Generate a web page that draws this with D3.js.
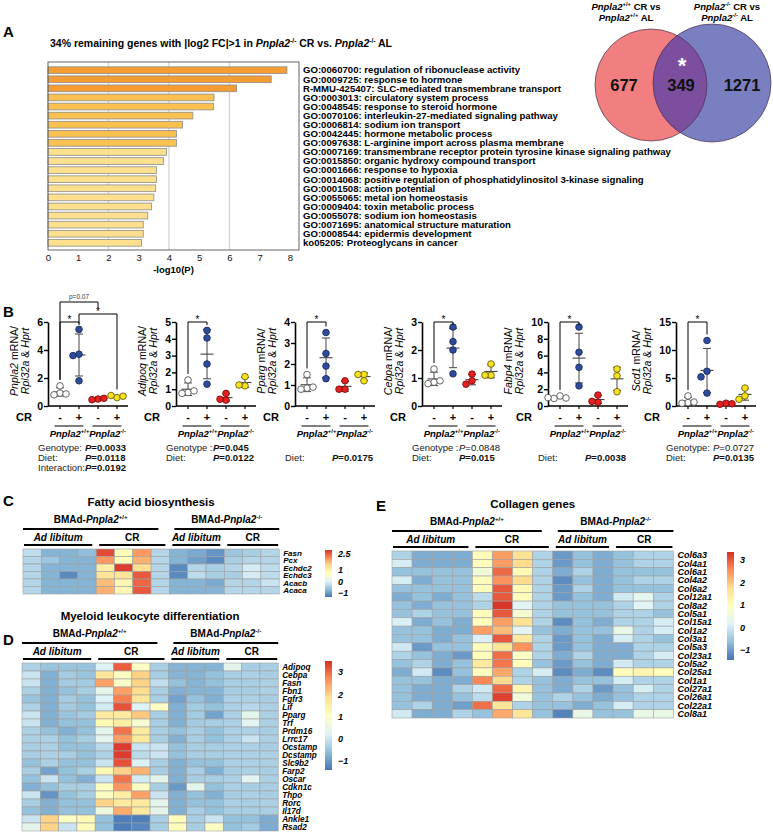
<!DOCTYPE html>
<html><head><meta charset="utf-8">
<script src="https://cdn.jsdelivr.net/npm/d3@7/dist/d3.min.js"></script>
<style>html,body{margin:0;padding:0;background:#fff}svg{display:block}</style>
</head><body>
<svg id="fig" width="773" height="835"></svg>
<script>
// ======================= DATA =======================
const goTerms = [
"GO:0060700: regulation of ribonuclease activity",
"GO:0009725: response to hormone",
"R-MMU-425407: SLC-mediated transmembrane transport",
"GO:0003013: circulatory system process",
"GO:0048545: response to steroid hormone",
"GO:0070106: interleukin-27-mediated signaling pathway",
"GO:0006814: sodium ion transport",
"GO:0042445: hormone metabolic process",
"GO:0097638: L-arginine import across plasma membrane",
"GO:0007169: transmembrane receptor protein tyrosine kinase signaling pathway",
"GO:0015850: organic hydroxy compound transport",
"GO:0001666: response to hypoxia",
"GO:0014068: positive regulation of phosphatidylinositol 3-kinase signaling",
"GO:0001508: action potential",
"GO:0055065: metal ion homeostasis",
"GO:0009404: toxin metabolic process",
"GO:0055078: sodium ion homeostasis",
"GO:0071695: anatomical structure maturation",
"GO:0008544: epidermis development",
"ko05205: Proteoglycans in cancer"];
const goLogP = [7.90,7.38,6.23,5.49,5.47,4.79,4.45,4.25,4.25,3.92,3.82,3.59,3.59,3.56,3.50,3.42,3.30,3.15,3.15,3.09];
const goTicks = [0,1,2,3,4,5,6,7,8];

const vennCounts = [677, 349, 1271];

const qpcrGenes = ["Pnpla2","Adipoq","Pparg","Cebpa","Fabp4","Scd1"];
const qpcrMax = [6,5,4,3,10,15];
const qpcrStep = [2,1,1,1,2,5];
const crSigns = ["-","+","-","+"];
const genoSup = ["+/+","-/-"];
const qpcrPnpla2 = [[1.44,0.92,0.80,0.86],[5.47,3.70,3.60,1.80],[0.50,0.45,0.55],[0.60,0.75,0.70]];
const qpcrAdipoq = [[1.55,0.80,0.75,0.90],[4.50,4.05,2.50,1.30],[0.75,0.35,0.40],[1.75,1.20,1.25]];
const qpcrPparg  = [[1.50,0.85,0.80,0.90],[3.50,2.50,1.90,1.30],[1.20,0.80,0.80],[1.50,1.50,1.20]];
const qpcrCebpa  = [[1.32,0.85,0.80,0.90],[2.82,2.30,2.00,1.15],[1.14,0.90,0.78],[1.50,1.10,1.10]];
const qpcrFabp4  = [[1.20,0.90,0.95,1.00],[9.40,6.40,4.60,2.40],[1.30,0.45,0.55],[4.40,3.60,1.70]];
const qpcrScd1   = [[1.80,0.60,0.50,0.70],[11.7,6.20,5.20,2.30],[0.50,0.30,0.40],[3.20,1.80,1.20]];
const qpcrValues = [qpcrPnpla2,qpcrAdipoq,qpcrPparg,qpcrCebpa,qpcrFabp4,qpcrScd1];
const qpcrStats = [
 [["Genotype:","=0.0033",true],["Diet:","=0.0118",true],["Interaction:","=0.0192",true]],
 [["Genotype :","=0.045",true],["Diet:","=0.0122",true]],
 [null,["Diet:","=0.0175",true]],
 [["Genotype :","=0.0848",false],["Diet:","=0.015",true]],
 [null,["Diet:","=0.0038",true]],
 [["Genotype:","=0.0727",false],["Diet:","=0.0135",true]]];
const sigPnpla2 = [{a:0,b:1,label:"*",level:0},{a:1,b:3,label:"*",level:1},{a:0,b:2,label:"p=0.07",level:2}];
const sigOther = [{a:0,b:1,label:"*",level:0}];

const sampleGroups = [4,4,3,3];
const dietNames = ["Ad libitum","CR","Ad libitum","CR"];

const fattyGenes = ["Fasn","Pcx","Echdc2","Echdc3","Acacb","Acaca"];
const fattyZ = [
[-0.3,-0.8,-0.8,-0.7, 2.6, 0.8, 2.0,-0.4,-0.8,-0.9,-1.1,-0.6,-0.5,-0.4],
[-0.4,-0.6,-0.8,-0.8, 2.0, 0.8, 1.8,-0.4,-0.8,-1.0,-1.2,-0.5,-0.4,-0.4],
[-0.4,-0.8,-0.8,-0.8, 1.1, 2.7, 1.4,-0.4,-1.2,-0.4,-0.5,-0.4,-0.1,-0.3],
[-0.4,-0.8,-1.2,-0.8, 1.3, 1.3, 2.5,-0.4,-1.2,-0.3,-0.5,-0.5,-0.1,-0.3],
[-0.4,-0.8,-0.8,-0.8, 1.7, 0.9, 2.4,-0.4,-0.8,-0.8,-0.9,-0.4,-0.4,-0.2],
[-0.4,-0.8,-0.8,-0.8, 1.8, 0.9, 2.5,-0.4,-0.8,-0.8,-0.8,-0.4,-0.4,-0.4]];

const myeloidGenes = ["Adipoq","Cebpa","Fasn","Fbn1","Fgfr3","Lif","Pparg","Trf","Prdm16","Lrrc17","Ocstamp","Dcstamp","Slc9b2","Farp2","Oscar","Cdkn1c","Thpo","Rorc","Il17d","Ankle1","Rsad2"];
const myeloidZ = [
[-0.3,-0.5,-0.5,-0.5, 0.2, 3.1, 1.0,-0.35,-0.7,-0.7,-0.7, 0.4,-0.35,-0.35],
[ 0.0,-0.75,-0.4,-0.5, 1.7, 1.0, 2.0,-0.35,-0.7,-0.7,-0.55,-0.35,-0.3,-0.35],
[ 0.0,-0.75,-0.4,-0.4, 2.5, 0.9, 2.0,-0.1,-0.55,-0.7,-0.55,-0.35,-0.35,-0.3],
[-0.3,-0.75,-0.55,-0.35, 0.4, 2.5, 1.9,-0.35,-0.75,-0.7,-0.7,-0.35,-0.35,-0.3],
[-0.5,-0.75,-0.4,-0.55, 0.2, 2.8, 1.7,-0.35,-0.9,-0.55,-0.75,-0.3,-0.3,-0.35],
[-0.3,-0.75,-0.4,-0.55, 0.1, 3.2, 0.2, 1.0,-0.75,-0.4,-0.55,-0.3,-0.2,-0.3],
[ 0.0,-0.75,-0.5,-0.4, 1.6, 1.6, 2.1,-0.35,-0.75,-0.4,-0.9,-0.3, 0.4,-0.3],
[ 0.0,-0.75,-0.55,-0.55, 1.2, 1.5, 0.8,-0.35,-0.75,-0.4,-0.35,-0.3, 0.3,-0.3],
[-0.3,-0.55,-0.75,-0.55, 0.4, 2.9, 1.6,-0.35,-0.55,-0.35,-0.55,-0.3,-0.3,-0.35],
[-0.3,-0.3,-0.55,-0.35, 0.35, 2.5, 1.6,-0.35,-0.75,-0.35,-0.55,-0.3, 0.0,-0.3],
[-0.35,-0.3,-0.55,-0.55,-0.15, 3.4, 0.0, 0.0,-0.55,-0.35,-0.35,-0.3,-0.3,-0.35],
[-0.35,-0.3,-0.35,-0.55,-0.3, 3.4,-0.15, 0.0,-0.55,-0.35,-0.35,-0.3,-0.3,-0.3],
[-0.55,-0.3,-0.55,-0.55, 0.0, 3.2, 0.2,-0.35,-0.75,-0.55,-0.55,-0.3,-0.3,-0.3],
[-0.35,-0.9,-0.55,-0.35, 1.2, 2.0, 2.3,-0.35,-0.75,-0.35,-0.75,-0.35,-0.3,-0.35],
[-0.55, 0.0,-0.55,-0.75, 0.0, 2.9, 0.1, 0.4,-0.75,-0.35,-0.35,-0.3, 0.3,-0.3],
[-0.75,-0.55,-0.35,-0.35, 1.0, 2.6, 1.0,-0.35,-1.0, 0.4,-0.55,-0.3,-0.35,-0.35],
[ 0.0,-1.05,-0.55,-0.35, 1.0, 1.5, 2.5, 0.0,-0.75,-0.55,-0.75,-0.35,-0.3,-0.35],
[-0.35,-0.75,-0.55,-0.55, 2.0, 1.6, 1.6, 0.4,-0.75,-0.55,-0.55,-0.3,-0.35,-0.3],
[-0.55,-0.75,-0.55,-0.55, 0.6, 2.4, 1.6, 0.4,-0.75,-0.35,-0.55,-0.35,-0.35,-0.35],
[ 0.0, 2.0, 1.0, 1.2,-0.55,-1.3,-1.3,-0.35, 1.1,-0.35, 0.0,-0.55,-0.55,-0.8],
[ 0.4, 2.0, 0.0, 1.1,-0.55,-1.3,-1.2,-0.35, 1.1,-0.35, 1.0,-0.55,-0.4,-0.8]];

const collagenGenes = ["Col6a3","Col4a1","Col6a1","Col4a2","Col6a2","Col12a1","Col8a2","Col5a1","Col15a1","Col1a2","Col3a1","Col5a3","Col23a1","Col5a2","Col25a1","Col1a1","Col27a1","Col26a1","Col22a1","Col8a1"];
const collagenZ = [
[-0.35,-0.85,-0.85,-0.85, 1.0, 2.4, 1.7,-0.35,-1.05,-0.6,-0.85,-0.6,-0.35,-0.35],
[ 0.05,-0.85,-0.85,-0.85, 1.0, 2.4, 1.8,-0.35,-1.05,-0.6,-0.85,-0.6,-0.35,-0.35],
[-0.6,-0.6,-0.6,-0.6, 0.6, 2.85, 1.1,-0.35,-0.85,-0.35,-0.85,-0.6,-0.6,-0.6],
[ 0.05,-0.85,-0.6,-0.6, 1.0, 2.5, 1.8,-0.35,-1.2,-0.6,-0.85,-0.6,-0.35,-0.35],
[-0.6,-0.6,-0.6,-0.6, 1.0, 3.0, 1.1,-0.35,-1.05,-0.35,-0.85,-0.6,-0.6,-0.6],
[-0.85,-0.6,-0.85,-0.6,-0.2, 3.0, 1.0,-0.35,-1.05,-0.6,-0.85, 0.0, 0.3,-0.35],
[-0.6,-0.85,-0.6,-0.6,-0.35, 3.3, 0.2,-0.35,-0.6,-0.6,-0.6,-0.35, 0.2,-0.35],
[-0.6,-0.35,-0.6,-0.6, 1.0, 3.0, 0.7,-0.35,-0.6,-0.6,-0.6,-0.35,-0.35,-0.6],
[ 0.1,-0.85,-0.6,-0.85, 1.0, 2.4, 1.7,-0.35,-1.2,-0.6,-0.85,-0.35,-0.35, 0.05],
[-0.6,-0.6,-0.85,-0.85, 2.4, 2.1, 0.2,-0.6,-0.85,-0.6,-0.6, 0.4,-0.35, 0.05],
[-0.6,-0.6,-0.85,-0.6, 0.1, 3.0, 1.5,-0.35,-1.05,-0.6,-0.85, 0.05,-0.35,-0.6],
[ 0.0,-1.05,-0.6,-0.6, 1.0, 1.6, 2.5,-0.35,-1.05,-0.6,-0.85,-0.85,-0.35,-0.35],
[-0.35,-0.6,-0.85,-1.05, 1.0, 2.8, 0.9,-0.35,-0.85,-0.35,-0.85,-0.85,-0.35, 0.05],
[-0.6,-0.35,-0.85,-0.6, 1.5, 2.75, 1.0,-0.6,-1.05,-0.6,-0.85, 0.0,-0.35,-0.35],
[-0.85, 0.0,-1.2,-0.6, 1.0, 2.3,-0.35, 0.05,-1.2,-0.85,-1.2, 1.0, 1.2, 1.0],
[-0.6,-0.6,-0.85,-0.85, 2.6, 1.8,-0.35,-0.6,-0.85,-0.6,-0.6, 0.05,-0.35,-0.35],
[-0.6,-0.85,-0.85,-0.35, 0.0, 2.85, 1.2,-0.6,-0.85,-0.35,-1.05,-0.6, 0.05,-0.35],
[-0.6,-0.85,-0.85,-0.6,-0.2, 3.2, 0.6,-0.6,-0.35,-0.6,-0.85,-0.6,-0.35,-0.35],
[-0.6,-0.35,-0.85,-1.0, 2.8, 1.6,-0.35,-0.6,-0.6,-0.85,-0.6, 0.05,-0.35,-0.35],
[ 0.0,-0.85,-0.85,-0.35,-0.6, 2.3, 1.6,-0.6,-1.3, 0.4,-0.6,-0.6, 0.4, 0.4]];

// ======================= HELPERS =======================
const FONT = '"Liberation Sans", Arial, Helvetica, sans-serif';
const svg = d3.select("#fig").attr("font-family", FONT);
const defs = svg.append("defs");
const P = (t, o = {}) => Object.assign({t}, o);
function rich(parent, x, y, fs, parts, o = {}) {
  const t = parent.append("text").attr("x", x).attr("y", y).attr("font-size", fs);
  if (o.anchor) t.attr("text-anchor", o.anchor);
  if (o.weight) t.attr("font-weight", o.weight);
  if (o.transform) t.attr("transform", o.transform);
  if (o.fill) t.attr("fill", o.fill);
  let shift = 0;
  parts.forEach(p => {
    const s = t.append("tspan").text(p.t);
    if (p.i) s.attr("font-style", "italic");
    if (p.b !== undefined) s.attr("font-weight", p.b ? "bold" : "normal");
    if (p.sup) { s.attr("font-size", fs * 0.62); const target = -fs * 0.4; if (target - shift) s.attr("dy", target - shift); shift = target; }
    else if (shift) { s.attr("dy", -shift); shift = 0; }
  });
  return t;
}
function label(x, y, t) {
  svg.append("text").attr("x", x).attr("y", y).attr("font-size", 15).attr("font-weight", "bold").text(t);
}

// ======================= PANEL A: bars =======================
label(3, 37, "A");
const gA = svg.append("g");
rich(gA, 50, 47, 10.5, [P("34% remaining genes with |log2 FC|>1 in "), P("Pnpla2", {i: 1}), P("-/-", {sup: 1}), P(" CR vs. "), P("Pnpla2", {i: 1}), P("-/-", {sup: 1}), P(" AL")], {weight: "bold"});
const boxA = {x0: 48, x1: 299, y0: 62, y1: 250};
const xA = d3.scaleLinear().domain([0, 8.3]).range([boxA.x0, boxA.x1]);
const yA = d3.scaleBand().domain(goTerms).range([65, 248]).paddingInner(0.26).paddingOuter(0.2);
const cA = d3.scaleThreshold().domain([4, 6]).range(["#FDE08E", "#FAC151", "#F59D33"]);
gA.selectAll("line.grid").data([2, 4, 6]).join("line")
  .attr("x1", d => xA(d)).attr("x2", d => xA(d)).attr("y1", boxA.y0).attr("y2", boxA.y1)
  .attr("stroke", "#d4d4d4").attr("stroke-width", 1.3);
gA.selectAll("rect.bar").data(goLogP).join("rect")
  .attr("x", xA(0)).attr("y", (d, i) => yA(goTerms[i]))
  .attr("width", d => xA(d) - xA(0)).attr("height", yA.bandwidth())
  .attr("fill", d => cA(d)).attr("stroke", "#8c8c8c").attr("stroke-width", 0.8);
gA.append("rect").attr("x", boxA.x0).attr("y", boxA.y0).attr("width", boxA.x1 - boxA.x0).attr("height", boxA.y1 - boxA.y0)
  .attr("fill", "none").attr("stroke", "#555").attr("stroke-width", 0.9);
gA.selectAll("text.term").data(goTerms).join("text")
  .attr("x", 303).attr("y", d => yA(d) + yA.bandwidth() / 2 + 3.3)
  .attr("font-size", 9.6).attr("font-weight", "bold").text(d => d);
const axA = gA.append("g").attr("transform", `translate(0,${boxA.y1})`)
  .call(d3.axisBottom(xA).tickValues(goTicks).tickSize(0).tickPadding(4).tickFormat(d3.format("d")));
axA.select(".domain").remove();
axA.selectAll("text").attr("font-size", 9.5).attr("font-family", FONT).attr("fill", "#111");
gA.append("text").attr("x", xA(4.15)).attr("y", 273).attr("text-anchor", "middle")
  .attr("font-size", 9.5).attr("font-weight", "bold").text("-log10(P)");

// ======================= PANEL A: Venn =======================
const gV = svg.append("g");
const vL = {cx: 651, cy: 85, r: 56}, vR = {cx: 712, cy: 83, r: 59};
defs.append("clipPath").attr("id", "clipL").append("circle").attr("cx", vL.cx).attr("cy", vL.cy).attr("r", vL.r);
const circ = c => gV.append("circle").attr("cx", c.cx).attr("cy", c.cy).attr("r", c.r);
circ(vL).attr("fill", "#F27F7F");
circ(vR).attr("fill", "#7A7FC2");
circ(vR).attr("fill", "#7B4F9E").attr("clip-path", "url(#clipL)");
[vL, vR].forEach(c => circ(c).attr("fill", "none").attr("stroke", "#4a3050").attr("stroke-width", 0.7));
const vennX = [((vL.cx - vL.r) + (vR.cx - vR.r)) / 2, ((vR.cx - vR.r) + (vL.cx + vL.r)) / 2 + 1, ((vL.cx + vL.r) + (vR.cx + vR.r)) / 2 + 3];
vennCounts.forEach((n, i) => gV.append("text").attr("x", vennX[i]).attr("y", 91).attr("text-anchor", "middle")
  .attr("font-size", 16.5).attr("font-weight", "bold").attr("fill", "#111").text(n));
gV.append("text").attr("x", vennX[1] + 1).attr("y", 73).attr("text-anchor", "middle").attr("font-size", 22)
  .attr("font-weight", "bold").attr("fill", "#fff").text("*");
[[626, "+/+"], [727, "-/-"]].forEach(([cx, s]) => {
  rich(gV, cx, 10, 9.5, [P("Pnpla2", {i: 1}), P(s, {sup: 1}), P(" CR vs")], {anchor: "middle", weight: "bold"});
  rich(gV, cx, 21, 9.5, [P("Pnpla2", {i: 1}), P(s, {sup: 1}), P(" AL")], {anchor: "middle", weight: "bold"});
});

// ======================= PANEL B =======================
label(3, 317, "B");
const axB = [48, 176, 295, 422, 548, 676];
const gOff = [12, 31, 50, 69];
const B_TOP = 322, B_BOT = 406;
const ptFill = ["#ffffff", "#2E4C9C", "#E5211F", "#F6E21C"];
const ptStroke = ["#555", "#1b2b5e", "#7a1010", "#6b6010"];
const sigY = [322, 314, 302];
qpcrGenes.forEach((gene, k) => {
  const ax = axB[k];
  const g = svg.append("g");
  const y = d3.scaleLinear().domain([0, qpcrMax[k]]).range([B_BOT, B_TOP]);
  const gx = gOff.map(o => ax + o);
  const ay = g.append("g").attr("transform", `translate(${ax},0)`)
    .call(d3.axisLeft(y).tickValues(d3.range(0, qpcrMax[k] + 1e-9, qpcrStep[k])).tickSize(4).tickSizeOuter(0).tickPadding(1).tickFormat(d3.format("d")));
  ay.select(".domain").attr("stroke", "#000").attr("stroke-width", 1.6);
  ay.selectAll(".tick line").attr("stroke", "#000").attr("stroke-width", 1.4);
  ay.selectAll("text").attr("font-size", 10.5).attr("font-weight", "bold").attr("font-family", FONT).attr("fill", "#000");
  let tw = 0; ay.selectAll("text").each(function () { tw = Math.max(tw, this.getComputedTextLength()); });
  const l2 = ax - tw - 13, l1 = l2 - 11, cy = (B_TOP + B_BOT) / 2 - 3;
  rich(g, 0, 0, 10.6, [P(gene, {i: 1}), P(" mRNA/")], {anchor: "middle", transform: `translate(${l1},${cy}) rotate(-90)`});
  rich(g, 0, 0, 10.6, [P("Rpl32a", {i: 1}), P(" & "), P("Hprt", {i: 1})], {anchor: "middle", transform: `translate(${l2},${cy}) rotate(-90)`});
  g.append("line").attr("x1", ax).attr("x2", ax + 80).attr("y1", B_BOT).attr("y2", B_BOT).attr("stroke", "#000").attr("stroke-width", 1.6);
  g.selectAll("line.xt").data(gx).join("line").attr("x1", d => d).attr("x2", d => d).attr("y1", B_BOT).attr("y2", B_BOT + 3).attr("stroke", "#000").attr("stroke-width", 1.2);
  const vals = qpcrValues[k];
  vals.forEach((arr, j) => {
    const m = d3.mean(arr), sd = d3.deviation(arr);
    const cx = gx[j];
    g.append("line").attr("x1", cx).attr("x2", cx).attr("y1", y(m + sd)).attr("y2", y(Math.max(0, m - sd))).attr("stroke", "#444").attr("stroke-width", 1);
    [m + sd, Math.max(0, m - sd)].forEach(v => g.append("line").attr("x1", cx - 4).attr("x2", cx + 4).attr("y1", y(v)).attr("y2", y(v)).attr("stroke", "#444").attr("stroke-width", 1));
    g.append("line").attr("x1", cx - 6.5).attr("x2", cx + 6.5).attr("y1", y(m)).attr("y2", y(m)).attr("stroke", "#444").attr("stroke-width", 1.1);
    const r = 3.3, placed = [];
    arr.forEach(v => {
      const py = y(v);
      let px = cx;
      for (const kk of [0, -1, 1, -2, 2]) {
        const cand = cx + kk * (2 * r - 0.6);
        if (placed.every(p => Math.hypot(p[0] - cand, p[1] - py) >= 2 * r - 0.8)) { px = cand; break; }
      }
      placed.push([px, py]);
      g.append("circle").attr("cx", px).attr("cy", py).attr("r", r).attr("fill", ptFill[j]).attr("stroke", ptStroke[j]).attr("stroke-width", 0.9);
    });
  });
  const sigs = k === 0 ? sigPnpla2 : sigOther;
  const topOf = j => y(d3.max(vals[j])) - 6;
  sigs.forEach(s => {
    const ly = sigY[s.level];
    const legEnd = j => {
      const x = gx[j];
      const lower = sigs.filter(o => o.level < s.level && gx[o.a] < x && gx[o.b] > x);
      if (lower.length) return ly + 6;
      return Math.max(ly + 3, topOf(j));
    };
    g.append("path").attr("d", `M${gx[s.a]},${legEnd(s.a)}V${ly}H${gx[s.b]}V${legEnd(s.b)}`)
      .attr("fill", "none").attr("stroke", "#000").attr("stroke-width", 1);
    const mx = (gx[s.a] + gx[s.b]) / 2;
    if (s.label === "*") g.append("text").attr("x", mx).attr("y", ly + 1).attr("text-anchor", "middle").attr("font-size", 10).text("*");
    else g.append("text").attr("x", mx).attr("y", ly - 3).attr("text-anchor", "middle").attr("font-size", 6.5).attr("fill", "#333").text(s.label);
  });
  g.append("text").attr("x", ax - 32).attr("y", 421).attr("font-size", 11).attr("font-weight", "bold").text("CR");
  crSigns.forEach((s, j) => g.append("text").attr("x", gx[j]).attr("y", 421).attr("text-anchor", "middle").attr("font-size", 11).attr("font-weight", "bold").text(s));
  genoSup.forEach((s, j) => {
    const cx = (gx[2 * j] + gx[2 * j + 1]) / 2;
    g.append("line").attr("x1", cx - 15).attr("x2", cx + 14).attr("y1", 426).attr("y2", 426).attr("stroke", "#000").attr("stroke-width", 1);
    rich(g, cx, 437, 9.5, [P("Pnpla2", {i: 1}), P(s, {sup: 1})], {anchor: "middle", weight: "bold"});
  });
  qpcrStats[k].forEach((st, li) => {
    if (!st) return;
    const yy = 451 + li * 10;
    g.append("text").attr("x", ax - 10).attr("y", yy).attr("font-size", 9.5).attr("fill", "#222").text(st[0]);
    rich(g, ax + 37, yy, 9.5, [P("P", {i: 1}), P(st[1])], {weight: st[2] ? "bold" : "normal", fill: "#111"});
  });
});

// ======================= HEATMAPS =======================
const rdylbu = ["#4575b4", "#91bfdb", "#e0f3f8", "#ffffbf", "#fee090", "#fc8d59", "#d73027"];
const grad = defs.append("linearGradient").attr("id", "cbar").attr("x1", 0).attr("x2", 0).attr("y1", 1).attr("y2", 0);
rdylbu.forEach((c, i) => grad.append("stop").attr("offset", i / 6).attr("stop-color", c));
const fmtTick = d => (d < 0 ? "\u2212" + Math.abs(d) : "" + d);

function heatmap(c) {
  const g = svg.append("g");
  const nCol = d3.sum(sampleGroups);
  const x = d3.scaleBand().domain(d3.range(nCol)).range([c.x0, c.x0 + nCol * c.cw]);
  const y = d3.scaleBand().domain(c.genes).range([c.y0, c.y0 + c.genes.length * c.ch]);
  const color = d3.scaleLinear().domain(d3.range(7).map(i => c.domain[0] + i * (c.domain[1] - c.domain[0]) / 6)).range(rdylbu).clamp(true);
  c.mat.forEach((row, r) => row.forEach((v, j) => g.append("rect")
    .attr("x", x(j)).attr("y", y(c.genes[r])).attr("width", x.bandwidth()).attr("height", y.bandwidth())
    .attr("fill", color(v)).attr("stroke", "#a0a0a0").attr("stroke-width", 0.6)));
  const right = c.x0 + nCol * c.cw;
  g.selectAll("text.gene").data(c.genes).join("text").attr("x", right + 4).attr("y", d => y(d) + y.bandwidth() / 2 + c.fsGene * 0.36)
    .attr("font-size", c.fsGene).attr("font-weight", "bold").attr("font-style", "italic").text(d => d);
  const top = c.y0;
  const cum = [0]; sampleGroups.forEach(n => cum.push(cum[cum.length - 1] + n));
  const xAt = i => c.x0 + i * c.cw;
  g.append("text").attr("x", (c.x0 + right) / 2).attr("y", top - 43).attr("text-anchor", "middle").attr("font-size", 11.5).attr("font-weight", "bold").text(c.title);
  [[0, 2, "+/+"], [2, 4, "-/-"]].forEach(([a, b, s], gi) => {
    const x1 = xAt(cum[a]) + (gi ? 5 : 0), x2 = xAt(cum[b]) - (gi ? 0 : 11);
    g.append("line").attr("x1", x1).attr("x2", x2).attr("y1", top - 20).attr("y2", top - 20).attr("stroke", "#000").attr("stroke-width", 1.8);
    rich(g, (x1 + x2) / 2, top - 26, 10, [P("BMAd-"), P("Pnpla2", {i: 1}), P(s, {sup: 1})], {anchor: "middle", weight: "bold"});
  });
  dietNames.forEach((d, i) => {
    const x1 = xAt(cum[i]) + (i ? 3 : 1), x2 = xAt(cum[i + 1]) - (i < 3 ? 4 : 1);
    g.append("line").attr("x1", x1).attr("x2", x2).attr("y1", top - 4).attr("y2", top - 4).attr("stroke", "#000").attr("stroke-width", 1.8);
    g.append("text").attr("x", (x1 + x2) / 2).attr("y", top - 8.5).attr("text-anchor", "middle").attr("font-size", 10)
      .attr("font-weight", "bold").attr("font-style", d === "CR" ? "normal" : "italic").text(d);
  });
  const cb = d3.scaleLinear().domain(c.domain).range([c.cbY0 + c.cbH, c.cbY0]);
  g.append("rect").attr("x", c.cbX).attr("y", c.cbY0).attr("width", 7).attr("height", c.cbH).attr("fill", "url(#cbar)");
  g.selectAll("text.cb").data(c.cbTicks).join("text").attr("x", c.cbX + 13).attr("y", d => cb(d) + 3.2)
    .attr("font-size", 9).attr("font-weight", "bold").attr("font-style", "italic").text(fmtTick);
}

label(3, 506, "C");
heatmap({title: "Fatty acid biosynthesis", genes: fattyGenes, mat: fattyZ, x0: 23, y0: 549, cw: 18.3, ch: 7.5, fsGene: 8,
  domain: [-1.4, 2.8], cbX: 325, cbY0: 550, cbH: 47, cbTicks: [2.5, 1, 0, -1]});
label(3, 645, "D");
heatmap({title: "Myeloid leukocyte differentiation", genes: myeloidGenes, mat: myeloidZ, x0: 22, y0: 663, cw: 18.3, ch: 8.0, fsGene: 8.2,
  domain: [-1.4, 3.5], cbX: 325, cbY0: 661, cbH: 109, cbTicks: [3, 2, 1, 0, -1]});
label(376, 511, "E");
heatmap({title: "Collagen genes", genes: collagenGenes, mat: collagenZ, x0: 392, y0: 551, cw: 20.1, ch: 8.35, fsGene: 9,
  domain: [-1.45, 3.35], cbX: 727, cbY0: 552, cbH: 108, cbTicks: [3, 2, 1, 0, -1]});
</script></body></html>
